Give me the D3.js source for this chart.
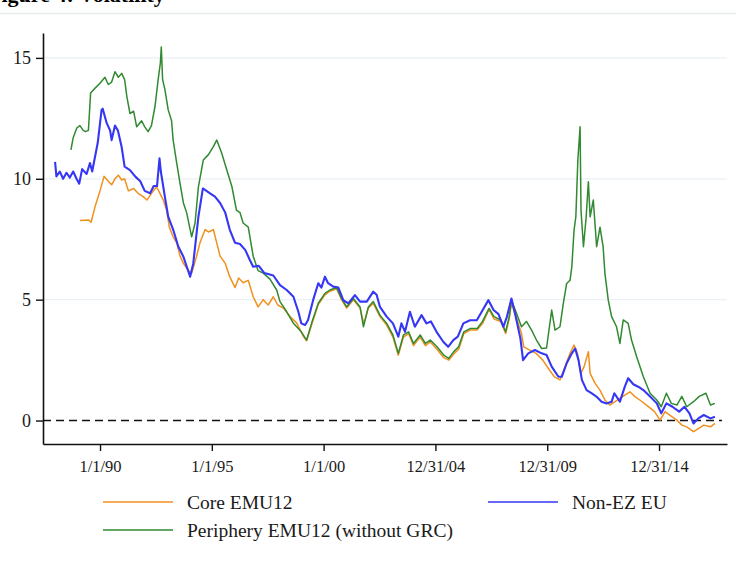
<!DOCTYPE html>
<html>
<head>
<meta charset="utf-8">
<script src="https://cdn.jsdelivr.net/npm/d3@7"></script>
<style>
  body { margin: 0; background: #fff; }
  svg { display: block; }
</style>
</head>
<body>
<svg id="chart"></svg>
<script>
// decimal year, yield (%)
const coreEMU12 = [
  [1989.1, 8.27], [1989.48, 8.3], [1989.6, 8.2], [1989.78, 8.85], [1990.0, 9.5], [1990.18, 10.1],
  [1990.37, 9.9], [1990.52, 9.75], [1990.67, 10.0], [1990.82, 10.15], [1990.97, 9.95], [1991.1, 10.0],
  [1991.27, 9.5], [1991.5, 9.6], [1991.7, 9.4], [1991.93, 9.26], [1992.1, 9.12], [1992.3, 9.4],
  [1992.53, 9.67], [1992.68, 9.4], [1992.83, 9.12], [1992.98, 8.7], [1993.1, 8.0], [1993.27, 7.6],
  [1993.43, 7.35], [1993.58, 6.8], [1993.73, 6.5], [1993.95, 6.2], [1994.1, 6.1], [1994.32, 6.8],
  [1994.47, 7.35], [1994.7, 7.9], [1994.85, 7.8], [1995.07, 7.9], [1995.22, 7.35], [1995.37, 6.8],
  [1995.6, 6.5], [1995.8, 5.95], [1996.04, 5.5], [1996.2, 5.9], [1996.4, 5.7], [1996.63, 5.8],
  [1996.85, 5.12], [1997.07, 4.7], [1997.3, 5.0], [1997.52, 4.78], [1997.75, 5.12], [1997.95, 4.78],
  [1998.2, 4.65], [1998.5, 4.3], [1998.8, 4.03], [1999.1, 3.47], [1999.24, 3.3], [1999.46, 3.95],
  [1999.76, 4.8], [2000.06, 5.2], [2000.28, 5.35], [2000.58, 5.45], [2000.8, 5.0], [2001.03, 4.65],
  [2001.33, 5.0], [2001.63, 4.65], [2001.8, 4.0], [2002.0, 4.65], [2002.22, 4.85], [2002.52, 4.3],
  [2002.82, 3.95], [2003.1, 3.45], [2003.34, 2.7], [2003.57, 3.45], [2003.8, 3.6], [2004.02, 3.1],
  [2004.32, 3.45], [2004.55, 3.1], [2004.77, 3.25], [2005.07, 2.95], [2005.37, 2.6], [2005.6, 2.5],
  [2005.82, 2.75], [2006.04, 2.95], [2006.27, 3.6], [2006.57, 3.75], [2006.87, 3.75], [2007.1, 4.0],
  [2007.4, 4.6], [2007.62, 4.2], [2007.92, 4.1], [2008.14, 3.6], [2008.3, 4.2], [2008.4, 4.85],
  [2008.6, 4.3], [2008.85, 3.6], [2008.95, 3.05], [2009.2, 2.92], [2009.5, 2.78], [2009.8, 2.5],
  [2010.1, 2.09], [2010.32, 1.81], [2010.57, 1.68], [2010.8, 2.23], [2011.02, 2.78], [2011.2, 3.12],
  [2011.35, 2.78], [2011.5, 1.95], [2011.65, 2.23], [2011.84, 2.85], [2011.92, 1.95], [2012.14, 1.54],
  [2012.36, 1.26], [2012.58, 0.85], [2012.8, 0.64], [2013.03, 0.78], [2013.25, 0.92], [2013.47, 1.05],
  [2013.7, 1.19], [2013.92, 0.99], [2014.14, 0.85], [2014.44, 0.64], [2014.8, 0.37], [2015.05, 0.02],
  [2015.27, 0.37], [2015.57, 0.16], [2015.8, 0.02], [2016.02, -0.19], [2016.24, -0.26], [2016.54, -0.46],
  [2016.76, -0.33], [2017.0, -0.19], [2017.3, -0.26], [2017.5, -0.12]
];

const nonEZEU = [
  [1987.99, 10.7], [1988.05, 10.1], [1988.2, 10.3], [1988.35, 10.0], [1988.5, 10.25], [1988.65, 10.05],
  [1988.8, 10.3], [1988.95, 10.0], [1989.07, 9.8], [1989.2, 10.4], [1989.4, 10.2], [1989.55, 10.65],
  [1989.65, 10.3], [1989.9, 11.5], [1990.07, 12.85], [1990.12, 12.9], [1990.3, 12.3], [1990.45, 12.0],
  [1990.52, 11.6], [1990.67, 12.2], [1990.8, 12.0], [1990.97, 11.3], [1991.1, 10.5], [1991.34, 10.36],
  [1991.57, 10.1], [1991.8, 9.9], [1992.0, 9.5], [1992.24, 9.4], [1992.4, 9.7], [1992.55, 9.7],
  [1992.66, 10.85], [1992.72, 10.3], [1992.9, 9.26], [1993.05, 8.43], [1993.27, 7.9], [1993.5, 7.2],
  [1993.72, 6.8], [1994.03, 5.95], [1994.17, 6.5], [1994.4, 8.43], [1994.6, 9.6], [1994.92, 9.4],
  [1995.14, 9.26], [1995.37, 9.0], [1995.6, 8.6], [1995.8, 7.9], [1996.04, 7.35], [1996.26, 7.3],
  [1996.5, 7.05], [1996.7, 6.64], [1996.85, 6.36], [1997.1, 6.4], [1997.35, 6.1], [1997.75, 6.0],
  [1998.05, 5.6], [1998.35, 5.4], [1998.65, 5.12], [1998.87, 4.5], [1999.0, 4.02], [1999.17, 3.95],
  [1999.3, 4.15], [1999.53, 4.98], [1999.76, 5.68], [1999.9, 5.5], [2000.06, 5.95], [2000.2, 5.68],
  [2000.43, 5.54], [2000.66, 5.5], [2000.88, 4.98], [2001.1, 4.85], [2001.4, 5.19], [2001.63, 4.92],
  [2001.93, 4.92], [2002.22, 5.33], [2002.37, 5.2], [2002.52, 4.7], [2002.82, 4.3], [2003.1, 4.02],
  [2003.34, 3.47], [2003.48, 4.02], [2003.64, 3.67], [2003.86, 4.5], [2004.08, 3.88], [2004.38, 4.36],
  [2004.6, 4.02], [2004.8, 4.1], [2005.05, 3.67], [2005.35, 3.26], [2005.57, 3.05], [2005.8, 3.33],
  [2006.0, 3.47], [2006.25, 4.02], [2006.55, 4.15], [2006.85, 4.15], [2007.07, 4.5], [2007.37, 4.98],
  [2007.6, 4.57], [2007.82, 4.4], [2008.04, 3.88], [2008.2, 4.3], [2008.4, 5.05], [2008.56, 4.43],
  [2008.8, 3.4], [2008.92, 2.5], [2009.15, 2.78], [2009.45, 2.92], [2009.75, 2.78], [2009.97, 2.71],
  [2010.2, 2.23], [2010.5, 1.81], [2010.65, 1.81], [2010.87, 2.37], [2011.1, 2.78], [2011.25, 2.98],
  [2011.4, 2.5], [2011.55, 1.68], [2011.76, 1.26], [2011.98, 1.13], [2012.2, 0.99], [2012.43, 0.78],
  [2012.65, 0.71], [2012.88, 0.78], [2013.0, 1.13], [2013.25, 0.78], [2013.47, 1.4], [2013.62, 1.75],
  [2013.85, 1.5], [2014.07, 1.4], [2014.3, 1.26], [2014.6, 0.99], [2014.9, 0.71], [2015.1, 0.3],
  [2015.33, 0.71], [2015.6, 0.57], [2015.9, 0.37], [2016.14, 0.57], [2016.36, 0.3], [2016.54, -0.12],
  [2016.76, 0.09], [2017.0, 0.23], [2017.3, 0.09], [2017.5, 0.16]
];

const peripheryEMU12 = [
  [1988.7, 11.2], [1988.8, 11.7], [1988.96, 12.1], [1989.1, 12.2], [1989.25, 12.0], [1989.35, 11.95],
  [1989.48, 12.0], [1989.58, 13.55], [1989.78, 13.75], [1990.0, 13.95], [1990.22, 14.2], [1990.37, 13.9],
  [1990.52, 14.0], [1990.67, 14.43], [1990.82, 14.2], [1990.97, 14.36], [1991.1, 14.1], [1991.2, 13.4],
  [1991.34, 12.7], [1991.5, 12.8], [1991.64, 12.15], [1991.86, 12.4], [1992.0, 12.15], [1992.15, 11.95],
  [1992.3, 12.2], [1992.46, 13.0], [1992.6, 14.1], [1992.7, 14.8], [1992.74, 15.45], [1992.8, 14.1],
  [1992.9, 13.7], [1993.05, 12.85], [1993.2, 12.4], [1993.27, 11.6], [1993.43, 10.65], [1993.58, 9.8],
  [1993.73, 9.0], [1993.88, 8.58], [1994.03, 7.9], [1994.1, 7.6], [1994.25, 8.17], [1994.4, 9.67],
  [1994.62, 10.78], [1994.85, 11.0], [1995.07, 11.33], [1995.22, 11.6], [1995.44, 11.07], [1995.67, 10.36],
  [1995.9, 9.67], [1996.1, 8.7], [1996.26, 8.6], [1996.4, 8.17], [1996.63, 8.0], [1996.85, 6.8],
  [1997.07, 6.2], [1997.3, 6.1], [1997.6, 5.85], [1997.9, 5.4], [1998.05, 4.92], [1998.35, 4.5],
  [1998.65, 4.02], [1999.0, 3.67], [1999.24, 3.33], [1999.46, 4.02], [1999.76, 4.85], [2000.06, 5.26],
  [2000.28, 5.4], [2000.58, 5.5], [2000.8, 5.05], [2001.03, 4.7], [2001.33, 5.05], [2001.63, 4.7],
  [2001.78, 3.88], [2002.0, 4.7], [2002.22, 4.92], [2002.52, 4.36], [2002.82, 4.02], [2003.1, 3.54],
  [2003.34, 2.78], [2003.57, 3.54], [2003.8, 3.67], [2004.02, 3.19], [2004.32, 3.54], [2004.55, 3.19],
  [2004.77, 3.33], [2005.07, 3.05], [2005.37, 2.71], [2005.6, 2.57], [2005.82, 2.85], [2006.04, 3.05],
  [2006.27, 3.67], [2006.57, 3.81], [2006.87, 3.81], [2007.1, 4.09], [2007.4, 4.64], [2007.62, 4.3],
  [2007.92, 4.16], [2008.14, 3.67], [2008.3, 4.3], [2008.4, 4.98], [2008.6, 4.5], [2008.85, 3.88],
  [2009.07, 4.1], [2009.3, 3.74], [2009.52, 3.33], [2009.75, 2.98], [2009.97, 3.0], [2010.2, 4.57],
  [2010.35, 3.74], [2010.57, 3.88], [2010.72, 4.85], [2010.87, 5.67], [2011.02, 5.8], [2011.1, 6.36],
  [2011.2, 7.88], [2011.28, 8.43], [2011.37, 10.78], [2011.47, 12.15], [2011.51, 8.7], [2011.62, 7.19],
  [2011.74, 8.4], [2011.84, 9.88], [2011.92, 8.43], [2012.06, 9.12], [2012.21, 7.19], [2012.36, 8.0],
  [2012.5, 7.19], [2012.58, 6.09], [2012.73, 4.98], [2012.88, 4.3], [2013.1, 3.88], [2013.25, 3.19],
  [2013.4, 4.16], [2013.62, 4.02], [2013.77, 3.33], [2014.0, 2.64], [2014.3, 1.81], [2014.6, 1.13],
  [2014.9, 0.85], [2015.1, 0.57], [2015.33, 1.13], [2015.55, 0.71], [2015.8, 0.64], [2016.02, 1.0],
  [2016.24, 0.57], [2016.54, 0.78], [2016.8, 1.0], [2017.1, 1.13], [2017.3, 0.64], [2017.5, 0.71]
];

const seriesNames = ["Core EMU12", "Non-EZ EU", "Periphery EMU12 (without GRC)"];
const yTicks = [0, 5, 10, 15];
const xTicks = [1990, 1995, 2000, 2005, 2010, 2015];
const xTickLabels = ["1/1/90", "1/1/95", "1/1/00", "12/31/04", "12/31/09", "12/31/14"];

const width = 736, height = 571;
const plotLeft = 43, plotRight = 727, plotTop = 33, plotBottom = 444;
const serif = "'Liberation Serif', 'Times New Roman', serif";

const svg = d3.select("#chart").attr("width", width).attr("height", height);

// caption of the figure, mostly cut off by the top edge as in the source crop
svg.append("text")
  .attr("x", -12).attr("y", 2)
  .attr("font-family", serif).attr("font-weight", "bold").attr("font-size", 22)
  .attr("fill", "#000")
  .text("Figure 4: Volatility");
svg.append("line")
  .attr("x1", 0).attr("x2", width).attr("y1", 13.5).attr("y2", 13.5)
  .attr("stroke", "#e7eaec").attr("stroke-width", 1.5);

const x = d3.scaleLinear().domain([1987.45, 2018.04]).range([plotLeft, plotRight]);
const y = d3.scaleLinear().domain([-0.97, 16.03]).range([plotBottom, plotTop]);

// gridlines
svg.append("g")
  .selectAll("line")
  .data(yTicks.filter(d => d !== 0))
  .enter().append("line")
  .attr("x1", plotLeft).attr("x2", plotRight)
  .attr("y1", d => y(d)).attr("y2", d => y(d))
  .attr("stroke", "#eaf0f3").attr("stroke-width", 1.2);

// zero reference line
svg.append("line")
  .attr("x1", plotLeft).attr("x2", plotRight - 5)
  .attr("y1", y(0)).attr("y2", y(0))
  .attr("stroke", "#111").attr("stroke-width", 1.5)
  .attr("stroke-dasharray", "8,5");

const line = d3.line().x(d => x(d[0])).y(d => y(d[1]));

const series = [
  { name: seriesNames[0], data: coreEMU12, color: "#f0911f", w: 1.5 },
  { name: seriesNames[2], data: peripheryEMU12, color: "#318a31", w: 1.5 },
  { name: seriesNames[1], data: nonEZEU, color: "#3636f5", w: 2.1 }
];

svg.append("g")
  .selectAll("path")
  .data(series)
  .enter().append("path")
  .attr("d", d => line(d.data))
  .attr("fill", "none")
  .attr("stroke", d => d.color)
  .attr("stroke-width", d => d.w)
  .attr("stroke-linejoin", "round");

// axes
const yAxis = svg.append("g")
  .attr("transform", `translate(${plotLeft},0)`)
  .call(d3.axisLeft(y).tickValues(yTicks).tickSize(7).tickSizeOuter(0).tickPadding(5));
const xAxis = svg.append("g")
  .attr("transform", `translate(0,${plotBottom})`)
  .call(d3.axisBottom(x).tickValues(xTicks).tickFormat((d, i) => xTickLabels[i])
    .tickSize(7).tickSizeOuter(0).tickPadding(9));

[yAxis, xAxis].forEach(g => {
  g.select(".domain").attr("stroke", "#111").attr("stroke-width", 1.6);
  g.selectAll(".tick line").attr("stroke", "#111").attr("stroke-width", 1.4);
  g.selectAll(".tick text").attr("fill", "#1a1a1a").attr("font-family", serif);
});
yAxis.selectAll(".tick text").attr("font-size", 18);
xAxis.selectAll(".tick text").attr("font-size", 16.5);

// legend
const legendItems = [
  { name: seriesNames[0], color: "#f0911f", x: 103, y: 502 },
  { name: seriesNames[1], color: "#3636f5", x: 488, y: 502 },
  { name: seriesNames[2], color: "#318a31", x: 103, y: 530 }
];
const legend = svg.append("g")
  .selectAll("g")
  .data(legendItems)
  .enter().append("g")
  .attr("transform", d => `translate(${d.x},${d.y})`);
legend.append("line")
  .attr("x1", 0).attr("x2", 70)
  .attr("stroke", d => d.color).attr("stroke-width", 1.5);
legend.append("text")
  .attr("x", 84).attr("dy", "0.35em")
  .attr("font-family", serif).attr("font-size", 19.5)
  .attr("fill", "#1a1a1a")
  .text(d => d.name);
</script>
</body>
</html>
